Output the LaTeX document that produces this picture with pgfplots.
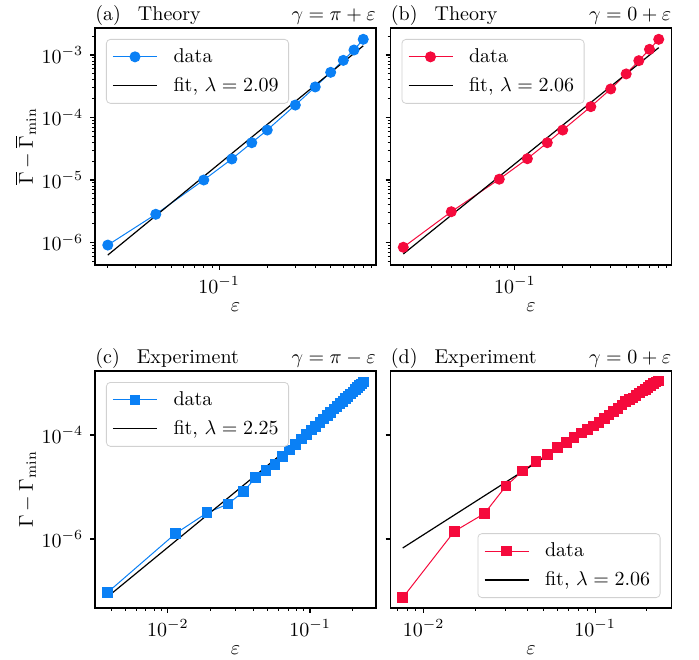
\documentclass[border=0pt]{standalone}
\usepackage{pgfplots}
\pgfplotsset{compat=1.18}

\definecolor{datablue}{HTML}{0A80F5}
\definecolor{datared}{HTML}{F50A3C}

% Theory: eps, Gamma-bar difference
\pgfplotstableread{
eps   val
0.02  9.1e-7
0.04  2.83e-6
0.08  1.0e-5
0.12  2.17e-5
0.16  3.95e-5
0.2   6.3e-5
0.3   1.58e-4
0.4   3.08e-4
0.5   5.28e-4
0.6   8.2e-4
0.7   1.2e-3
0.8   1.78e-3
}\theoryA
\pgfplotstableread{
eps   val
0.02  8.4e-7
0.04  3.11e-6
0.08  1.03e-5
0.12  2.19e-5
0.16  3.95e-5
0.2   6.3e-5
0.3   1.49e-4
0.4   2.86e-4
0.5   4.97e-4
0.6   8.1e-4
0.7   1.23e-3
0.8   1.78e-3
}\theoryB
% Experiment: eps, Gamma difference
\pgfplotstableread{
eps      val
0.00378  9.4e-8
0.01134  1.27e-6
0.0189   3.19e-6
0.02646  4.68e-6
0.03402  8.13e-6
0.04158  1.52e-5
0.04914  2.07e-5
0.0567   2.74e-5
0.06426  3.87e-5
0.07182  5.11e-5
0.07938  6.58e-5
0.08694  8.3e-5
0.0945   1.01e-4
0.10206  1.25e-4
0.10962  1.47e-4
0.11718  1.76e-4
0.12474  2.04e-4
0.1323   2.40e-4
0.13986  2.72e-4
0.14742  3.14e-4
0.15498  3.52e-4
0.16254  4.02e-4
0.1701   4.45e-4
0.17766  5.02e-4
0.18522  5.53e-4
0.19278  6.15e-4
0.20034  6.74e-4
0.2079   7.45e-4
0.21546  8.10e-4
0.22302  8.90e-4
0.23058  9.60e-4
0.23814  1.045e-3
}\exptC
\pgfplotstableread{
eps      val
0.00754  7.4e-8
0.01508  1.40e-6
0.02262  3.09e-6
0.03016  1.04e-5
0.0377   2.03e-5
0.04524  3.10e-5
0.05278  4.26e-5
0.06032  5.73e-5
0.06786  7.24e-5
0.0754   8.91e-5
0.08294  1.09e-4
0.09048  1.27e-4
0.09802  1.48e-4
0.10556  1.76e-4
0.1131   2.07e-4
0.12064  2.41e-4
0.12818  2.82e-4
0.13572  3.19e-4
0.14326  3.80e-4
0.1508   4.35e-4
0.15834  4.76e-4
0.16588  5.13e-4
0.17342  5.79e-4
0.18096  6.47e-4
0.1885   6.97e-4
0.19604  7.59e-4
0.20358  8.26e-4
0.21112  8.97e-4
0.21866  9.70e-4
0.2262   1.04e-3
0.23374  1.09e-3
}\exptD

\pgfplotsset{
  panelbase/.style={
    scale only axis, width=140.5pt, height=118.5pt,
    axis line style={line width=0.55pt},
    tick align=outside, tick pos=left,
    major tick length=2.4pt, minor tick length=1.4pt,
    every major tick/.append style={black, line width=0.55pt},
    every minor tick/.append style={black, line width=0.4pt},
    xlabel={$\varepsilon$},
    xlabel style={yshift=2pt},
    ylabel shift={-4pt},
    legend cell align=left,
    legend style={draw=black!18, rounded corners=2pt, fill=white,
      inner xsep=3pt, inner ysep=2.5pt, row sep=2pt,
      /tikz/every odd column/.append style={column sep=6pt}},
    legend image code/.code={
      \draw[mark repeat=2,mark phase=2] plot coordinates {(0pt,0pt) (11pt,0pt) (22pt,0pt)};
    },
  },
  toprowlimits/.style={
    xmin=0.01663, xmax=0.962, ymin=4.37e-7, ymax=2.7e-3,
    xtick={0.1},
    minor xtick={0.02,0.03,0.04,0.05,0.06,0.07,0.08,0.09,0.2,0.3,0.4,0.5,0.6,0.7,0.8,0.9},
    ytick={1e-6,1e-5,1e-4,1e-3},
    minor ytick={5e-7,6e-7,7e-7,8e-7,9e-7,2e-6,3e-6,4e-6,5e-6,6e-6,7e-6,8e-6,9e-6,
      2e-5,3e-5,4e-5,5e-5,6e-5,7e-5,8e-5,9e-5,2e-4,3e-4,4e-4,5e-4,6e-4,7e-4,8e-4,9e-4,2e-3},
  },
  bottomrowlimits/.style={
    ymin=4.7e-8, ymax=1.7e-3,
    xtick={0.01,0.1},
    minor xtick={0.004,0.005,0.006,0.007,0.008,0.009,0.02,0.03,0.04,0.05,0.06,0.07,0.08,0.09,0.2},
    ytick={1e-6,1e-4},
  },
}

\begin{document}
\begin{tikzpicture}
\useasboundingbox (0,0) rectangle (349.5pt,329.5pt);

% (a) theory, gamma = pi + eps
\begin{loglogaxis}[panelbase, toprowlimits, name=pa, at={(47.5pt,197pt)}, anchor=south west,
  ylabel={$\overline{\Gamma}-\overline{\Gamma}_{\mathrm{min}}$},
  legend style={at={(0,1)}, anchor=north west, xshift=5.5pt, yshift=-5.5pt}]
\addplot[datablue, line width=0.5pt, mark=*, mark size=2.5pt, mark options={solid, fill=datablue, draw=datablue}] table[x=eps, y=val] {\theoryA};
\addlegendentry{data}
\addplot[black, line width=0.6pt, no marks] coordinates {(0.02,6.3e-7) (0.8,1.40e-3)};
\addlegendentry{fit, $\lambda=2.09$}
\end{loglogaxis}
\node[anchor=base west, inner sep=0pt] at ([yshift=3.8pt]pa.north west) {(a)\hspace{0.85em}Theory};
\node[anchor=base east, inner sep=0pt] at ([yshift=3.8pt]pa.north east) {$\gamma=\pi+\varepsilon$};

% (b) theory, gamma = 0 + eps
\begin{loglogaxis}[panelbase, toprowlimits, name=pb, at={(195.25pt,197pt)}, anchor=south west,
  yticklabels={},
  legend style={at={(0,1)}, anchor=north west, xshift=5.5pt, yshift=-5.5pt}]
\addplot[datared, line width=0.5pt, mark=*, mark size=2.5pt, mark options={solid, fill=datared, draw=datared}] table[x=eps, y=val] {\theoryB};
\addlegendentry{data}
\addplot[black, line width=0.6pt, no marks] coordinates {(0.02,6.55e-7) (0.8,1.31e-3)};
\addlegendentry{fit, $\lambda=2.06$}
\end{loglogaxis}
\node[anchor=base west, inner sep=0pt] at ([yshift=3.8pt]pb.north west) {(b)\hspace{0.85em}Theory};
\node[anchor=base east, inner sep=0pt] at ([yshift=3.8pt]pb.north east) {$\gamma=0+\varepsilon$};

% (c) experiment, gamma = pi - eps
\begin{loglogaxis}[panelbase, bottomrowlimits, name=pc, at={(47.5pt,25.5pt)}, anchor=south west,
  xmin=0.00308, xmax=0.291,
  ylabel={$\Gamma-\Gamma_{\mathrm{min}}$},
  legend style={at={(0,1)}, anchor=north west, xshift=5.5pt, yshift=-5.5pt}]
\addplot[datablue, line width=0.5pt, mark=square*, mark size=2.4pt, mark options={solid, fill=datablue, draw=datablue}] table[x=eps, y=val] {\exptC};
\addlegendentry{data}
\addplot[black, line width=0.6pt, no marks] coordinates {(0.00378,7.74e-8) (0.23814,8.5e-4)};
\addlegendentry{fit, $\lambda=2.25$}
\end{loglogaxis}
\node[anchor=base west, inner sep=0pt] at ([yshift=3.8pt]pc.north west) {(c)\hspace{0.85em}Experiment};
\node[anchor=base east, inner sep=0pt] at ([yshift=3.8pt]pc.north east) {$\gamma=\pi-\varepsilon$};

% (d) experiment, gamma = 0 + eps
\begin{loglogaxis}[panelbase, bottomrowlimits, name=pd, at={(195.25pt,25.5pt)}, anchor=south west,
  xmin=0.0064, xmax=0.279,
  yticklabels={},
  legend style={at={(1,0)}, anchor=south east, xshift=-5.5pt, yshift=5pt}]
\addplot[datared, line width=0.5pt, mark=square*, mark size=2.4pt, mark options={solid, fill=datared, draw=datared}] table[x=eps, y=val] {\exptD};
\addlegendentry{data}
\addplot[black, line width=0.6pt, no marks] coordinates {(0.00754,6.7e-7) (0.23374,9.27e-4)};
\addlegendentry{fit, $\lambda=2.06$}
\end{loglogaxis}
\node[anchor=base west, inner sep=0pt] at ([yshift=3.8pt]pd.north west) {(d)\hspace{0.85em}Experiment};
\node[anchor=base east, inner sep=0pt] at ([yshift=3.8pt]pd.north east) {$\gamma=0+\varepsilon$};
\end{tikzpicture}
\end{document}
